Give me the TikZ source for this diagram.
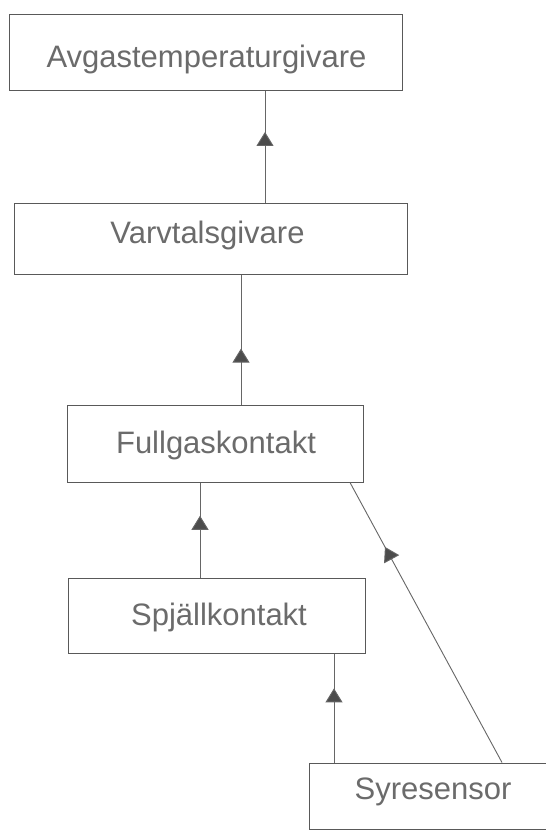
\documentclass[tikz,border=0pt]{standalone}
\usepackage{fontspec}
\setmainfont{Liberation Sans}
\usetikzlibrary{arrows.meta,decorations.markings}

\tikzset{
  box/.style={draw=black!65, line width=1pt, fill=none, inner sep=0pt},
  lbl/.style={anchor=base, text=black!58, font=\fontsize{31}{36}\selectfont, inner sep=0pt},
  link/.style={draw=black!60, line width=0.9pt},
  midarrow/.style={postaction={decorate, decoration={markings,
      mark=at position #1 with {\arrow{Triangle[width=17pt,length=14pt,fill=black!70]}}}}}
}

\begin{document}
\begin{tikzpicture}[x=1pt, y=-1pt]
  \path[use as bounding box, clip] (0,0) rectangle (546,830);
  \fill[white] (0,0) rectangle (546,830);

  % boxes
  \node[box, minimum width=393pt, minimum height=76pt] (b1) at (205.5,52) {};
  \node[box, minimum width=393pt, minimum height=71pt] (b2) at (210.5,238.5) {};
  \node[box, minimum width=296pt, minimum height=77pt] (b3) at (215,443.5) {};
  \node[box, minimum width=297pt, minimum height=75pt] (b4) at (216.5,615.5) {};
  \node[box, minimum width=248pt, minimum height=66pt] (b5) at (433,796) {};

  % labels
  \node[lbl] (t1) at (206.5,67) {Avgastemperaturgivare};
  \node[lbl] (t2) at (207.5,243) {Varvtalsgivare};
  \node[lbl] (t3) at (216,453) {Fullgaskontakt};
  \node[lbl] (t4) at (219,625) {Spjällkontakt};
  \node[lbl] (t5) at (433,799) {Syresensor};

  % connectors, drawn from the lower box up to the upper one
  \draw[link, midarrow=0.63] ([xshift=54.5pt]b2.north) -- ([xshift=59.5pt]b1.south);
  \draw[link, midarrow=0.43] ([xshift=26pt]b3.north) -- ([xshift=30.5pt]b2.south);
  \draw[link, midarrow=0.65] ([xshift=-16.5pt]b4.north) -- ([xshift=-15pt]b3.south);
  \draw[link, midarrow=0.68] ([xshift=-99pt]b5.north) -- ([xshift=117.5pt]b4.south);
  \draw[link, midarrow=0.77] ([xshift=69pt]b5.north) -- ([xshift=135pt]b3.south);
\end{tikzpicture}
\end{document}
